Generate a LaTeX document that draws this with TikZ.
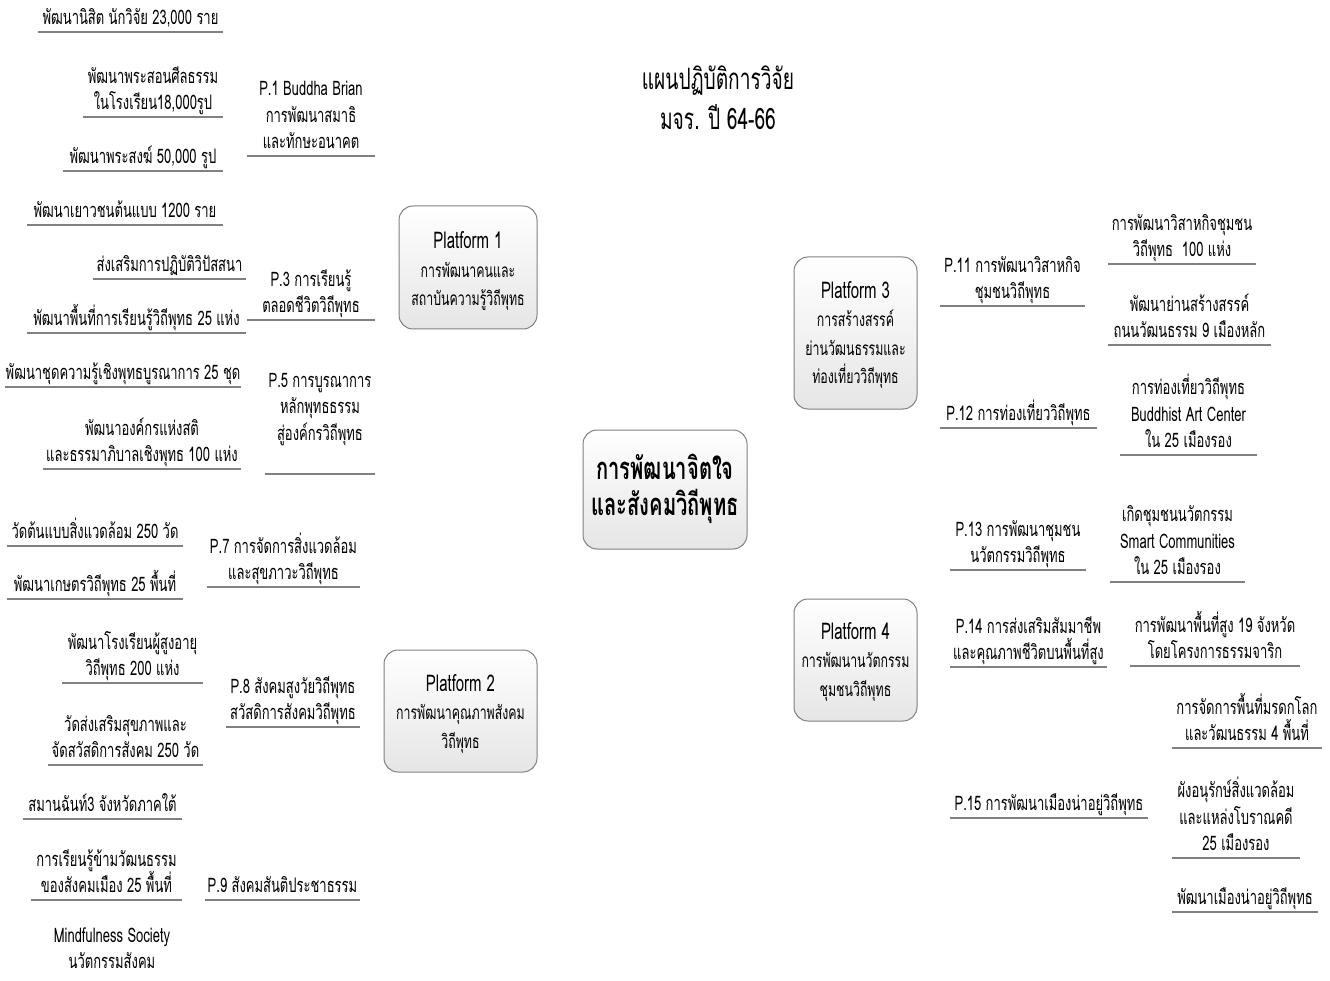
\documentclass[tikz,border=0pt]{standalone}
\usepackage{fontspec}
\setmainfont{Loma}[Script=Thai, FakeStretch=0.65]

\begin{document}
\begin{tikzpicture}[x=1pt, y=-1pt,
    plat/.style={draw=black!50, line width=1pt, rounded corners=14pt, top color=white, bottom color=black!10, align=center, inner sep=0pt, text depth=5pt, font=\fontsize{23}{28.5}\selectfont},
    leaf/.style={align=center, anchor=south, inner xsep=0pt, inner ysep=1pt, font=\fontsize{20}{26.5}\selectfont, execute at end node=\rule[-6pt]{0pt}{6pt}},
    uline/.style={draw=black!50, line width=1.3pt}]
                    \useasboundingbox (0,0) rectangle (1330,981);

                    % title and centre
                    \node [align=center, font=\fontsize{29.5}{40}\selectfont] (title) at (718, 98) {แผนปฏิบัติการวิจัย\\มจร. ปี 64-66};
                    \node [plat, minimum width=164, minimum height=119, text height=56pt, font=\bfseries\fontsize{31}{36}\selectfont] (core) at (665, 489.5) {การพัฒนาจิตใจ\\และสังคมวิถีพุทธ};

                    % platforms
                    \node [plat, minimum width=138, minimum height=123, text height=82pt] (pf1) at (468, 267.5) {Platform 1\\{\fontsize{19}{28}\selectfont การพัฒนาคนและ}\\{\fontsize{19}{28}\selectfont สถาบันความรู้วิถีพุทธ}};
                    \node [plat, minimum width=153, minimum height=122, text height=79pt] (pf2) at (460.5, 711) {Platform 2\\{\fontsize{19}{28}\selectfont การพัฒนาคุณภาพสังคม}\\{\fontsize{19}{28}\selectfont วิถีพุทธ}};
                    \node [plat, minimum width=123, minimum height=152, text height=107pt] (pf3) at (855.5, 333) {Platform 3\\{\fontsize{19}{28}\selectfont การสร้างสรรค์}\\{\fontsize{19}{28}\selectfont ย่านวัฒนธรรมและ}\\{\fontsize{19}{28}\selectfont ท่องเที่ยววิถีพุทธ}};
                    \node [plat, minimum width=123, minimum height=122, text height=77pt] (pf4) at (855.5, 660) {Platform 4\\{\fontsize{19}{28}\selectfont การพัฒนานวัตกรรม}\\{\fontsize{19}{28}\selectfont ชุมชนวิถีพุทธ}};

                    % projects
                    \node [leaf, minimum width=128] (p1) at (311, 156) {P.1 Buddha Brian\\การพัฒนาสมาธิ\\และทักษะอนาคต};
                    \node [leaf, minimum width=128] (p3) at (311, 320) {P.3 การเรียนรู้\\ตลอดชีวิตวิถีพุทธ};
                    \node [leaf, minimum width=110] (p5) at (320, 474) {P.5 การบูรณาการ\\หลักพุทธธรรม\\สู่องค์กรวิถีพุทธ\\~};
                    \node [leaf, minimum width=153] (p7) at (283.5, 587) {P.7 การจัดการสิ่งแวดล้อม\\และสุขภาวะวิถีพุทธ};
                    \node [leaf, minimum width=134] (p8) at (293, 727) {P.8 สังคมสูงวัยวิถีพุทธ\\สวัสดิการสังคมวิถีพุทธ};
                    \node [leaf, minimum width=155] (p9) at (282.5, 900) {P.9 สังคมสันติประชาธรรม};
                    \node [leaf, minimum width=145] (p11) at (1012.5, 306) {P.11 การพัฒนาวิสาหกิจ\\ชุมชนวิถีพุทธ};
                    \node [leaf, minimum width=157] (p12) at (1018.5, 428) {P.12 การท่องเที่ยววิถีพุทธ};
                    \node [leaf, minimum width=136] (p13) at (1018, 570) {P.13 การพัฒนาชุมชน\\นวัตกรรมวิถีพุทธ};
                    \node [leaf, minimum width=157] (p14) at (1028.5, 667) {P.14 การส่งเสริมสัมมาชีพ\\และคุณภาพชีวิตบนพื้นที่สูง};
                    \node [leaf, minimum width=198] (p15) at (1049, 818) {P.15 การพัฒนาเมืองน่าอยู่วิถีพุทธ};

                    % outputs, left
                    \node [leaf, minimum width=185] (o1) at (130.5, 32) {พัฒนานิสิต นักวิจัย 23,000 ราย};
                    \node [leaf, minimum width=140] (o2) at (153, 117) {พัฒนาพระสอนศีลธรรม\\ในโรงเรียน18,000รูป};
                    \node [leaf, minimum width=160] (o3) at (143, 171) {พัฒนาพระสงฆ์ 50,000 รูป};
                    \node [leaf, minimum width=196] (o4) at (125, 225) {พัฒนาเยาวชนต้นแบบ 1200 ราย};
                    \node [leaf, minimum width=153] (o5) at (169.5, 279) {ส่งเสริมการปฏิบัติวิปัสสนา};
                    \node [leaf, minimum width=219] (o6) at (136.5, 333) {พัฒนาพื้นที่การเรียนรู้วิถีพุทธ 25 แห่ง};
                    \node [leaf, minimum width=236] (o7) at (123, 387) {พัฒนาชุดความรู้เชิงพุทธบูรณาการ 25 ชุด};
                    \node [leaf, minimum width=198] (o8) at (142, 469) {พัฒนาองค์กรแห่งสติ\\และธรรมาภิบาลเชิงพุทธ 100 แห่ง};
                    \node [leaf, minimum width=176] (o9) at (95, 546) {วัดต้นแบบสิ่งแวดล้อม 250 วัด};
                    \node [leaf, minimum width=176] (o10) at (95, 599) {พัฒนาเกษตรวิถีพุทธ 25 พื้นที่};
                    \node [leaf, minimum width=141] (o11) at (132.5, 683) {พัฒนาโรงเรียนผู้สูงอายุ\\วิถีพุทธ 200 แห่ง};
                    \node [leaf, minimum width=155] (o12) at (125.5, 765) {วัดส่งเสริมสุขภาพและ\\จัดสวัสดิการสังคม 250 วัด};
                    \node [leaf, minimum width=159] (o13) at (102.5, 819) {สมานฉันท์3 จังหวัดภาคใต้};
                    \node [leaf, minimum width=151] (o14) at (106.5, 900) {การเรียนรู้ข้ามวัฒนธรรม\\ของสังคมเมือง 25 พื้นที่};
                    \node [leaf, anchor=center, execute at end node={}] (o15) at (112, 951) {Mindfulness Society\\นวัตกรรมสังคม};

                    % outputs, right
                    \node [leaf, minimum width=148] (o16) at (1182, 264) {การพัฒนาวิสาหกิจชุมชน\\วิถีพุทธ~~100 แห่ง};
                    \node [leaf, minimum width=163] (o17) at (1189.5, 345) {พัฒนาย่านสร้างสรรค์\\ถนนวัฒนธรรม 9 เมืองหลัก};
                    \node [leaf, minimum width=137] (o18) at (1188.5, 455) {การท่องเที่ยววิถีพุทธ\\Buddhist Art Center\\ใน 25 เมืองรอง};
                    \node [leaf, minimum width=135] (o19) at (1177.5, 582) {เกิดชุมชนนวัตกรรม\\Smart Communities\\ใน 25 เมืองรอง};
                    \node [leaf, minimum width=170] (o20) at (1215, 666) {การพัฒนาพื้นที่สูง 19 จังหวัด\\โดยโครงการธรรมจาริก};
                    \node [leaf, minimum width=150] (o21) at (1247, 748) {การจัดการพื้นที่มรดกโลก\\และวัฒนธรรม 4 พื้นที่};
                    \node [leaf, minimum width=128] (o22) at (1236, 858) {ผังอนุรักษ์สิ่งแวดล้อม\\และแหล่งโบราณคดี\\25 เมืองรอง};
                    \node [leaf, minimum width=146] (o23) at (1245, 912) {พัฒนาเมืองน่าอยู่วิถีพุทธ};

                    \foreach \n in {p1,p3,p5,p7,p8,p9,p11,p12,p13,p14,p15,o1,o2,o3,o4,o5,o6,o7,o8,o9,o10,o11,o12,o13,o14,o16,o17,o18,o19,o20,o21,o22,o23}
                        \draw [uline] (\n.south west) -- (\n.south east);
                \end{tikzpicture}
\end{document}
